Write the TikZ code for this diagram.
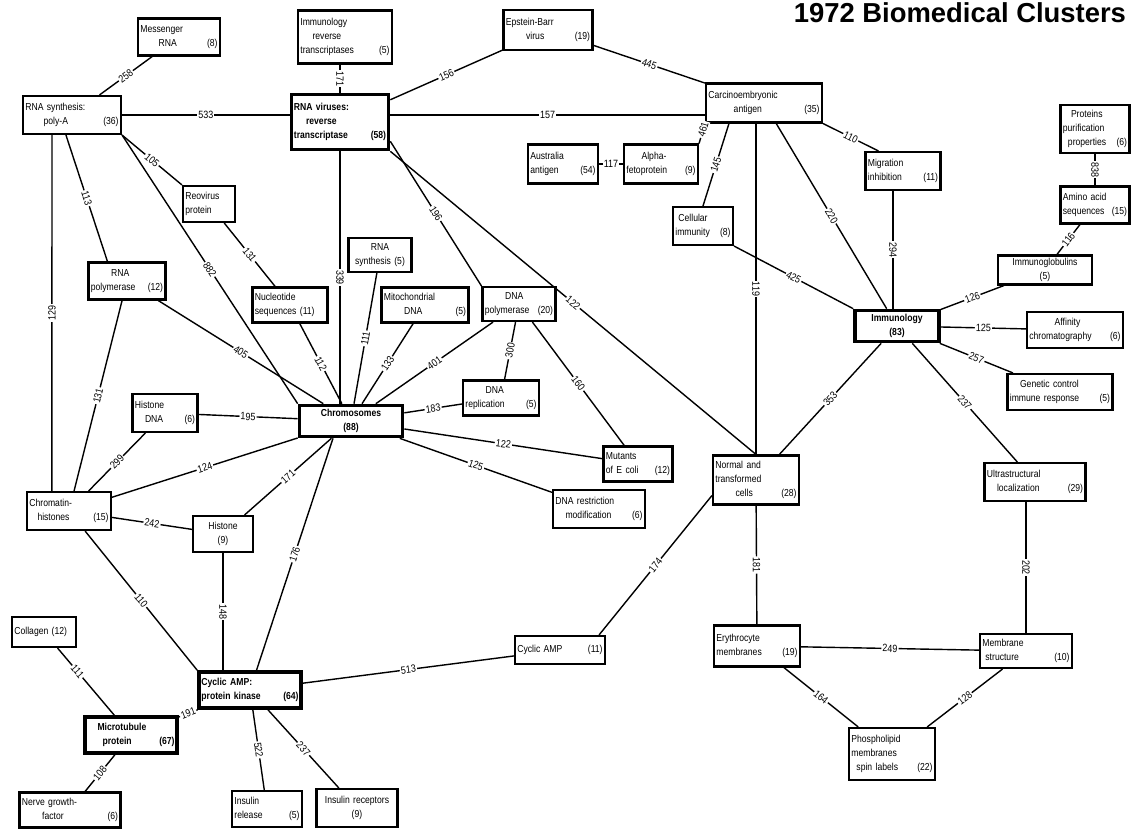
\documentclass[tikz,border=0pt]{standalone}
\usepackage{fontspec}
\setmainfont{Liberation Sans}[FakeStretch=0.85]
\newfontfamily\titlefont{Liberation Sans}

\newcommand{\boxfont}{\fontsize{7.2}{10}\selectfont}
\newcommand{\wtfont}{\fontsize{7.5}{8}\selectfont}
% number of papers, pushed to the right edge of the box
\newcommand{\npap}[1]{\hskip 0pt plus 1filll(#1)}

\tikzset{
  box/.code 2 args={%
    \pgfmathsetlengthmacro\boxtw{#1*0.025cm-0.12cm}%
    \pgfmathsetlengthmacro\boxmh{#2*0.025cm}%
    \pgfkeysalso{draw, line width=1.5pt, fill=white, align=left, inner sep=0.06cm,
      font=\boxfont, text width=\boxtw, minimum height=\boxmh}},
  hub/.style 2 args={box={#1}{#2}, line width=2.6pt, font=\boxfont\bfseries},
  link/.style={line width=1pt},
  wt/.style={fill=white, inner sep=0.8pt, font=\wtfont, sloped}
}

\begin{document}
\begin{tikzpicture}[x=0.025cm, y=-0.025cm]
  \useasboundingbox (0,0) rectangle (1133,829);

  % Title
  \node[anchor=base east, font=\titlefont\bfseries\fontsize{19.5}{24}\selectfont] (title) at (1131,22) {1972 Biomedical Clusters};

  % Clusters
  \node[box={82}{37}] (mrna) at (179,37) {Messenger\\\hspace*{1.8em}RNA\npap{8}};
  \node[box={98}{38}] (polya) at (72,115) {RNA synthesis:\\\hspace*{1.8em}poly-A\npap{36}};
  \node[box={94}{53}] (imrt) at (345,37) {Immunology\\\hspace*{1.2em}reverse\\transcriptases\npap{5}};
  \node[hub={97}{55}] (rnav) at (340,122) {RNA viruses:\\\hspace*{1.2em}reverse\\transcriptase\npap{58}};
  \node[box={89}{40}] (ebv) at (548,30) {Epstein-Barr\\\hspace*{2em}virus\npap{19}};
  \node[box={116}{39}] (carc) at (764,103) {Carcinoembryonic\\\hspace*{2.5em}antigen\npap{35}};
  \node[box={70}{39}] (austr) at (563,164) {Australia\\antigen\npap{54}};
  \node[box={74}{39}] (alpha) at (661,164) {\hspace*{1.5em}Alpha-\\fetoprotein\npap{9}};
  \node[box={75}{38}] (migr) at (903,171) {Migration\\inhibition\npap{11}};
  \node[box={69}{48}] (prot) at (1095,129) {\hspace*{0.8em}Proteins\\purification\\\hspace*{0.5em}properties\npap{6}};
  \node[box={69}{37}] (amino) at (1095,205) {Amino acid\\sequences\npap{15}};
  \node[box={60}{38}] (cell) at (703,226) {\hspace*{0.3em}Cellular\\immunity\npap{8}};
  \node[box={52}{36}] (reo) at (209,204) {Reovirus\\protein};
  \node[box={63}{34}, align=center] (rnas) at (380,255) {RNA\\synthesis (5)};
  \node[box={75}{35}] (nucl) at (290,305) {Nucleotide\\sequences (11)};
  \node[box={87}{35}] (mito) at (425,305) {Mitochondrial\\\hspace*{2em}DNA\npap{5}};
  \node[box={73}{34}] (dnapol) at (519,304) {\hspace*{2em}DNA\\polymerase\npap{20}};
  \node[box={77}{37}] (rnapol) at (127,281) {\hspace*{2em}RNA\\polymerase\npap{12}};
  \node[hub={84}{31}, align=center] (imm) at (897,326) {Immunology\\(83)};
  \node[box={94}{29}, align=center] (igl) at (1045,270) {Immunoglobulins\\(5)};
  \node[box={96}{36}] (aff) at (1075,330) {\hspace*{2.5em}Affinity\\chromatography\npap{6}};
  \node[box={105}{36}] (gen) at (1060,392) {\hspace*{1em}Genetic control\\immune response\npap{5}};
  \node[box={101}{38}] (ultra) at (1035,482) {Ultrastructural\\\hspace*{1em}localization\npap{29}};
  \node[box={65}{38}] (hdna) at (165,413) {Histone\\\hspace*{1em}DNA\npap{6}};
  \node[hub={103}{31}, align=center] (chrom) at (351,421) {Chromosomes\\(88)};
  \node[box={76}{35}] (dnarep) at (501,398) {\hspace*{2em}DNA\\replication\npap{5}};
  \node[box={69}{35}] (mut) at (638,464) {Mutants\\of E coli\npap{12}};
  \node[box={92}{38}] (restr) at (599,509) {DNA restriction\\\hspace*{1em}modification\npap{6}};
  \node[box={86}{49}] (normal) at (756,480) {Normal and\\transformed\\\hspace*{2em}cells\npap{28}};
  \node[box={84}{38}] (chromatin) at (69,511) {Chromatin-\\\hspace*{0.8em}histones\npap{15}};
  \node[box={60}{36}, align=center] (hist) at (223,534) {Histone\\(9)};
  \node[box={64}{30}] (coll) at (44,632) {Collagen (12)};
  \node[hub={102}{36}] (campk) at (250,690) {Cyclic AMP:\\protein kinase\npap{64}};
  \node[hub={92}{36}] (micro) at (131,735) {\hspace*{1em}Microtubule\\\hspace*{1.5em}protein\npap{67}};
  \node[box={101}{35}] (ngf) at (70,810) {Nerve growth-\\\hspace*{2em}factor\npap{6}};
  \node[box={70}{36}] (insrel) at (267,809) {Insulin\\release\npap{5}};
  \node[box={81}{38}, align=center] (insrec) at (357,808) {Insulin receptors\\(9)};
  \node[box={90}{28}] (camp) at (560,650) {Cyclic AMP\npap{11}};
  \node[box={86}{41}] (ery) at (757,646) {Erythrocyte\\membranes\npap{19}};
  \node[box={92}{34}] (ms) at (1026,651) {Membrane\\\hspace*{0.3em}structure\npap{10}};
  \node[box={86}{52}] (phos) at (892,754) {Phospholipid\\membranes\\\hspace*{0.5em}spin labels\npap{22}};

  % RNA viruses and neighbours
  \draw[link] (polya) -- node[wt]{258} (mrna);
  \draw[link] (polya.east) -- node[wt]{533} (polya.east -| rnav.west);
  \draw[link] (imrt.south -| rnav) -- node[wt]{171} (rnav.north);
  \draw[link] (rnav) -- node[wt]{156} (ebv);
  \draw[link] (ebv) -- node[wt]{445} (carc);
  \draw[link] (rnav.east |- polya.east) -- node[wt]{157} (carc.west |- polya.east);
  \draw[link] (polya.south east) -- node[wt]{105} (reo.north west);
  \draw[link] ([xshift=1.1cm]polya.south west) -- node[wt]{113} ([xshift=0.5cm]rnapol.north west);
  \draw[link] ([xshift=0.75cm]polya.south west) -- node[wt]{129} ([xshift=0.65cm]chromatin.north west);
  \draw[link] (polya.south east) -- node[wt]{882} (chrom.north west);
  \draw[link] (reo) -- node[wt]{131} (nucl);
  \draw[link] (rnav.south) -- node[wt]{339} (rnav.south |- chrom.north);
  \draw[link] ([yshift=0.25cm]rnav.south east) -- node[wt]{196} (dnapol.north west);
  \draw[link] (rnav.south east) -- node[wt]{122} (normal.north);

  % Carcinoembryonic antigen
  \draw[link] (alpha.north east) -- node[wt,pos=.7]{461} (carc.south west);
  \draw[link] (austr) -- node[wt]{117} (alpha);
  \draw[link] ([xshift=0.6cm]carc.south west) -- node[wt]{145} (cell.north);
  \draw[link] (normal.north |- carc.south) -- node[wt]{119} (normal.north);
  \draw[link] (carc) -- node[wt]{220} (imm);
  \draw[link] (carc.south east) -- node[wt]{110} ([xshift=0.35cm]migr.north west);
  \draw[link] ([xshift=-0.25cm]migr.south) -- node[wt]{294} ([xshift=-0.25cm]migr.south |- imm.north);
  \draw[link] (cell.south east) -- node[wt]{425} (imm.north west);

  % Immunology
  \draw[link] (prot) -- node[wt]{838} (amino);
  \draw[link] (amino) -- node[wt]{116} (igl);
  \draw[link] (igl) -- node[wt]{126} (imm);
  \draw[link] (imm) -- node[wt]{125} (aff);
  \draw[link] (imm) -- node[wt]{257} (gen);
  \draw[link] (imm) -- node[wt]{353} (normal);
  \draw[link] (imm) -- node[wt]{237} (ultra);
  \draw[link] (ms.north |- ultra.south) -- node[wt]{202} (ms.north);

  % Membranes
  \draw[link] (normal) -- node[wt]{181} (ery);
  \draw[link] (ery) -- node[wt]{249} (ms);
  \draw[link] (ery) -- node[wt]{164} (phos);
  \draw[link] (ms) -- node[wt]{128} (phos);
  \draw[link] ([yshift=0.25cm]normal.south west) -- node[wt]{174} ([xshift=-0.175cm]camp.north east);

  % Chromosomes
  \draw[link] (nucl) -- node[wt]{112} (chrom);
  \draw[link] (rnas) -- node[wt]{111} (chrom);
  \draw[link] (mito) -- node[wt]{133} (chrom);
  \draw[link] (dnapol) -- node[wt]{401} (chrom);
  \draw[link] (dnarep) -- node[wt]{183} (chrom);
  \draw[link] (dnapol) -- node[wt]{300} (dnarep);
  \draw[link] (dnapol) -- node[wt]{160} (mut);
  \draw[link] (chrom) -- node[wt]{122} (mut);
  \draw[link] (chrom) -- node[wt]{125} (restr);
  \draw[link] (rnapol) -- node[wt]{405} (chrom);
  \draw[link] (rnapol) -- node[wt]{131} (chromatin);
  \draw[link] (hdna) -- node[wt]{195} (chrom);
  \draw[link] (hdna) -- node[wt]{299} (chromatin);
  \draw[link] (chromatin) -- node[wt]{124} (chrom);
  \draw[link] (chromatin) -- node[wt]{242} (hist);
  \draw[link] (hist) -- node[wt]{171} (chrom);
  \draw[link] (hist.south) -- node[wt]{148} (hist.south |- campk.north);
  \draw[link] ([xshift=-0.45cm]chrom.south) -- node[wt]{176} (campk);
  \draw[link] (chromatin) -- node[wt]{110} (campk.north west);

  % Cyclic AMP
  \draw[link] (micro) -- node[wt]{191} (campk);
  \draw[link] (coll) -- node[wt,pos=.35]{111} (micro);
  \draw[link] (micro) -- node[wt]{108} (ngf);
  \draw[link] (campk) -- node[wt]{522} (insrel);
  \draw[link] (campk) -- node[wt]{237} (insrec);
  \draw[link] (campk) -- node[wt]{513} (camp);
\end{tikzpicture}
\end{document}
